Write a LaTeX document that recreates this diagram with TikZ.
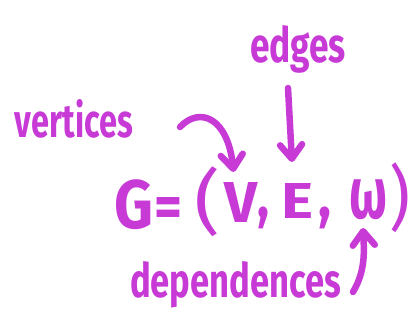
\documentclass[tikz,border=0pt]{standalone}
\usepackage{fontspec}
\setmainfont{Fira Sans}
\usepackage{graphicx}
\usetikzlibrary{arrows.meta}
\definecolor{ink}{RGB}{199,58,214}
\tikzset{
  txt/.style={text=ink, inner sep=0pt, outer sep=0pt, font=\bfseries},
  word/.style={txt, anchor=base west},
  glyph/.style={txt, anchor=south west},
  thin/.style={font=\mdseries},
  pen/.style={draw=ink, line width=6.5pt, line cap=round, line join=round,
    -{Straight Barb[length=14pt,width=22pt,round]}}
}
\begin{document}
\begin{tikzpicture}[x=1pt,y=-1pt]
\useasboundingbox (0,0) rectangle (411,324);
% labels
\node[word] (vertices) at (15,137) {\resizebox{118pt}{38pt}{vertices}};
\node[word] (edges) at (250,62) {\resizebox{96pt}{37pt}{edges}};
\node[word] (deps) at (130,297) {\resizebox{211pt}{36pt}{dependences}};
% formula
\node[glyph] (G) at (114,230) {\resizebox*{39pt}{50pt}{G}};
\node[word] (eq) at (154,227) {\resizebox{28pt}{30pt}{=}};
\node[glyph, thin] (lp) at (194,237) {\resizebox*{26pt}{70pt}{(}};
\node[glyph] (V) at (224,222) {\resizebox*{33pt}{40pt}{V}};
\node[glyph] (c1) at (257,229) {\resizebox*{12pt}{22pt}{,}};
\node[glyph] (E) at (281,218) {\resizebox*{32pt}{35pt}{E}};
\node[glyph] (c2) at (318,229) {\resizebox*{13pt}{22pt}{,}};
\node[glyph] (w) at (349,220) {\resizebox*{38pt}{40pt}{ω}};
\node[glyph, thin] (rp) at (389,233) {\resizebox*{21pt}{70pt}{)}};
% arrow tails
\coordinate (vtail) at (180,127);
\coordinate (etail) at (288,88);
\coordinate (dtail) at (353,292);
% arrows
\draw[pen] (vtail) .. controls (200,106) and (228,118) .. ([shift={(-7,-10)}]V.north);
\draw[pen] (etail) -- ([shift={(-5,-21)}]E.north);
\draw[pen] (dtail) .. controls (366,270) and (364,250) .. ([shift={(-5,8)}]w.south);
\end{tikzpicture}
\end{document}
